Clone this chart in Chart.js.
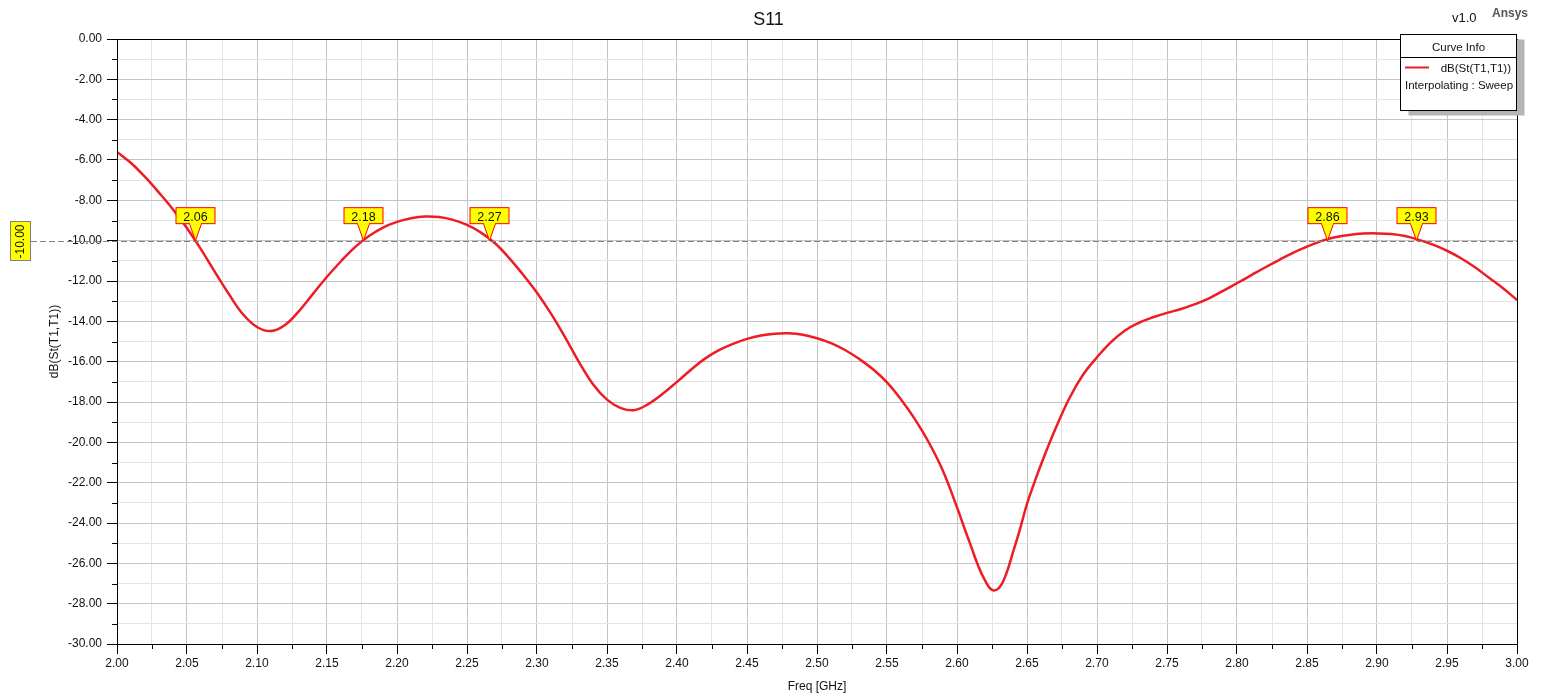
<!DOCTYPE html>
<html>
<head>
<meta charset="utf-8">
<script src="https://cdn.jsdelivr.net/npm/chart.js@4.4.0/dist/chart.umd.min.js"></script>
<style>
  html, body { margin: 0; padding: 0; background: #fff; overflow: hidden; }
  #wrap { width: 1543px; height: 699px; }
</style>
</head>
<body>
<div id="wrap"><canvas id="s11Chart" width="1543" height="699"></canvas></div>
<script>
// ── data ─────────────────────────────────────────────────────────────────
const freqGHz = [
  2.00, 2.01, 2.02, 2.03, 2.04, 2.05, 2.06, 2.07, 2.08, 2.09,
  2.10, 2.11, 2.12, 2.13, 2.14, 2.15, 2.16, 2.17, 2.18, 2.19,
  2.20, 2.21, 2.22, 2.23, 2.24, 2.25, 2.26, 2.27, 2.28, 2.29,
  2.30, 2.31, 2.32, 2.33, 2.34, 2.35, 2.36, 2.37, 2.38, 2.39,
  2.40, 2.41, 2.42, 2.43, 2.44, 2.45, 2.46, 2.47, 2.48, 2.49,
  2.50, 2.51, 2.52, 2.53, 2.54, 2.55, 2.56, 2.57, 2.58, 2.59,
  2.60, 2.605, 2.61, 2.615, 2.62, 2.625, 2.63, 2.635, 2.64, 2.645,
  2.65, 2.655, 2.66, 2.67, 2.68, 2.69, 2.70, 2.71, 2.72, 2.73, 2.74,
  2.75, 2.76, 2.77, 2.78, 2.79, 2.80, 2.81, 2.82, 2.83, 2.84,
  2.85, 2.86, 2.87, 2.88, 2.89, 2.90, 2.91, 2.92, 2.93, 2.94,
  2.95, 2.96, 2.97, 2.98, 2.99, 3.00,
];
const s11dB = [
  -5.60, -6.15, -6.84, -7.62, -8.45, -9.38, -10.43, -11.56, -12.66, -13.65,
  -14.28, -14.48, -14.18, -13.49, -12.64, -11.79, -11.02, -10.32, -9.77, -9.35,
  -9.07, -8.89, -8.80, -8.83, -8.97, -9.22, -9.60, -10.13, -10.85, -11.68,
  -12.58, -13.62, -14.78, -16.02, -17.12, -17.88, -18.30, -18.40, -18.08, -17.58,
  -17.00, -16.40, -15.85, -15.43, -15.12, -14.87, -14.70, -14.61, -14.59, -14.67,
  -14.84, -15.08, -15.42, -15.86, -16.38, -17.03, -17.88, -18.86, -20.02, -21.42,
  -23.22, -24.20, -25.15, -26.10, -26.85, -27.32, -27.22, -26.55, -25.45, -24.30,
  -23.05, -22.05, -21.10, -19.38, -17.85, -16.65, -15.78, -15.03, -14.45, -14.07, -13.80,
  -13.58, -13.39, -13.15, -12.86, -12.49, -12.11, -11.72, -11.33, -10.96, -10.60,
  -10.30, -10.02, -9.83, -9.72, -9.65, -9.64, -9.67, -9.77, -9.96, -10.20,
  -10.50, -10.87, -11.32, -11.84, -12.36, -12.94,
];

const xTickLabels = [
  '2.00', '2.05', '2.10', '2.15', '2.20', '2.25', '2.30', '2.35', '2.40', '2.45', '2.50',
  '2.55', '2.60', '2.65', '2.70', '2.75', '2.80', '2.85', '2.90', '2.95', '3.00',
];
const yTickLabels = [
  '0.00', '-2.00', '-4.00', '-6.00', '-8.00', '-10.00', '-12.00', '-14.00', '-16.00',
  '-18.00', '-20.00', '-22.00', '-24.00', '-26.00', '-28.00', '-30.00',
];

// -10 dB crossings (marker tips), labels shown rounded
const markerFreqs = [2.056, 2.176, 2.266, 2.864, 2.928];
const markerLevel = -10;

const COLORS = {
  curve: '#ee1c25',
  gridMajor: '#c4c4c4',
  gridMinor: '#e4e4e4',
  axis: '#000000',
  text: '#111111',
  markerFill: '#ffff00',
  markerEdge: '#ff0000',
  dash: '#808080',
};
const FONT = '"Liberation Sans", Arial, sans-serif';

// ── tick helpers ─────────────────────────────────────────────────────────
function buildTicks(labels) {
  const majors = labels.map(Number).sort((a, b) => a - b);
  const ticks = [];
  for (let i = 0; i < majors.length; i++) {
    ticks.push({ value: majors[i], major: true });
    if (i < majors.length - 1) ticks.push({ value: (majors[i] + majors[i + 1]) / 2, major: false });
  }
  return ticks;
}
function labelFor(labels, value) {
  const hit = labels.find(l => Math.abs(Number(l) - value) < 1e-6);
  return hit || '';
}

// ── overlay: frame, minor ticks, markers, titles, legend ─────────────────
const overlay = {
  id: 'overlay',
  afterDraw(chart) {
    const { ctx, chartArea: a, scales: { x, y } } = chart;
    ctx.save();

    // frame top/right
    ctx.strokeStyle = COLORS.axis;
    ctx.lineWidth = 1;
    ctx.strokeRect(Math.round(a.left) + 0.5, Math.round(a.top) + 0.5,
      Math.round(a.right - a.left), Math.round(a.bottom - a.top));

    // minor ticks (short, outside)
    ctx.beginPath();
    x.ticks.filter(t => !t.major).forEach(t => {
      const px = Math.round(x.getPixelForValue(t.value)) + 0.5;
      ctx.moveTo(px, a.bottom); ctx.lineTo(px, a.bottom + 5);
    });
    y.ticks.filter(t => !t.major).forEach(t => {
      const py = Math.round(y.getPixelForValue(t.value)) + 0.5;
      ctx.moveTo(a.left, py); ctx.lineTo(a.left - 5, py);
    });
    ctx.stroke();

    // -10 dB dashed level line + y marker
    const ly = Math.round(y.getPixelForValue(markerLevel)) + 0.5;
    ctx.strokeStyle = COLORS.dash;
    ctx.setLineDash([6, 3]);
    ctx.beginPath();
    ctx.moveTo(31, ly); ctx.lineTo(a.right, ly);
    ctx.stroke();
    ctx.setLineDash([]);

    ctx.fillStyle = COLORS.markerFill;
    ctx.fillRect(10.5, ly - 20, 20, 39);
    ctx.strokeStyle = COLORS.dash;
    ctx.strokeRect(10.5, ly - 20, 20, 39);
    ctx.save();
    ctx.translate(21, ly);
    ctx.rotate(-Math.PI / 2);
    ctx.fillStyle = COLORS.text;
    ctx.font = '12px ' + FONT;
    ctx.textAlign = 'center';
    ctx.textBaseline = 'middle';
    ctx.fillText(markerLevel.toFixed(2), 0, 0);
    ctx.restore();

    // frequency markers
    markerFreqs.forEach(f => {
      const cx = Math.round(x.getPixelForValue(f)) + 0.5;
      const tip = y.getPixelForValue(markerLevel);
      const bTop = tip - 33, bBot = tip - 17;
      ctx.fillStyle = COLORS.markerFill;
      ctx.strokeStyle = COLORS.markerEdge;
      ctx.lineWidth = 1;
      ctx.beginPath();
      ctx.moveTo(cx - 6, bBot); ctx.lineTo(cx, tip); ctx.lineTo(cx + 6, bBot);
      ctx.closePath();
      ctx.fill();
      ctx.beginPath();
      ctx.moveTo(cx - 6, bBot); ctx.lineTo(cx, tip); ctx.lineTo(cx + 6, bBot);
      ctx.stroke();
      ctx.fillRect(cx - 19.5, bTop, 39, 16);
      ctx.strokeRect(cx - 19.5, bTop, 39, 16);
      ctx.fillStyle = COLORS.markerFill;
      ctx.fillRect(cx - 5.5, bBot - 1, 11, 2);
      ctx.fillStyle = COLORS.text;
      ctx.font = '12.5px ' + FONT;
      ctx.textAlign = 'center';
      ctx.textBaseline = 'alphabetic';
      ctx.fillText(f.toFixed(2), cx, bBot - 3);
    });

    // titles
    ctx.fillStyle = COLORS.text;
    ctx.textAlign = 'center';
    ctx.font = '18px ' + FONT;
    ctx.fillText('S11', chart.width / 2 - 3, 25);
    ctx.font = '12px ' + FONT;
    ctx.fillText('Freq [GHz]', (a.left + a.right) / 2, 690);
    ctx.save();
    ctx.translate(58, (a.top + a.bottom) / 2);
    ctx.rotate(-Math.PI / 2);
    ctx.font = '12px ' + FONT;
    ctx.fillText('dB(St(T1,T1))', 0, 0);
    ctx.restore();

    ctx.textAlign = 'left';
    ctx.font = '13px ' + FONT;
    ctx.fillText('v1.0', 1452, 22);
    ctx.fillStyle = '#555';
    ctx.font = 'bold 12px ' + FONT;
    ctx.fillText('Ansys', 1492, 17);

    // legend box
    const lx = 1400.5, lyTop = 34.5, lw = 116, lh = 76;
    ctx.fillStyle = '#b4b4b4';
    ctx.fillRect(lx + 8, lyTop + 5, lw, lh);
    ctx.fillStyle = '#fff';
    ctx.fillRect(lx, lyTop, lw, lh);
    ctx.strokeStyle = '#000';
    ctx.strokeRect(lx, lyTop, lw, lh);
    ctx.beginPath();
    ctx.moveTo(lx, 57.5); ctx.lineTo(lx + lw, 57.5);
    ctx.stroke();
    ctx.fillStyle = COLORS.text;
    ctx.font = '11.5px ' + FONT;
    ctx.textAlign = 'center';
    ctx.fillText('Curve Info', lx + lw / 2, 51);
    ctx.strokeStyle = COLORS.curve;
    ctx.lineWidth = 2;
    ctx.beginPath();
    ctx.moveTo(1405, 67.5); ctx.lineTo(1429, 67.5);
    ctx.stroke();
    ctx.textAlign = 'right';
    ctx.fillText('dB(St(T1,T1))', 1511, 72);
    ctx.textAlign = 'left';
    ctx.fillText('Interpolating : Sweep', 1405, 89);

    ctx.restore();
  },
};

// ── chart ────────────────────────────────────────────────────────────────
const points = freqGHz.map((f, i) => ({ x: f, y: s11dB[i] }));

new Chart(document.getElementById('s11Chart').getContext('2d'), {
  type: 'line',
  data: {
    datasets: [{
      label: 'dB(St(T1,T1))',
      data: points,
      borderColor: COLORS.curve,
      borderWidth: 2.5,
      pointRadius: 0,
      fill: false,
      tension: 0.4,
    }],
  },
  options: {
    responsive: false,
    animation: false,
    devicePixelRatio: 1,
    layout: { padding: { left: 0, right: 26, top: 39, bottom: 0 } },
    plugins: { legend: { display: false }, tooltip: { enabled: false }, title: { display: false } },
    scales: {
      x: {
        type: 'linear',
        min: 2, max: 3,
        afterBuildTicks: s => { s.ticks = buildTicks(xTickLabels); },
        afterFit: s => { s.height = 55; },
        ticks: {
          autoSkip: false, maxRotation: 0, padding: 2,
          color: COLORS.text, font: { size: 12, family: FONT },
          callback: v => labelFor(xTickLabels, v),
        },
        grid: {
          color: c => (c.tick && c.tick.major ? COLORS.gridMajor : COLORS.gridMinor),
          tickColor: c => (c.tick && c.tick.major ? COLORS.axis : 'rgba(0,0,0,0)'),
          tickLength: 10,
        },
        border: { display: true, color: COLORS.axis, width: 1 },
      },
      y: {
        type: 'linear',
        min: -30, max: 0,
        afterBuildTicks: s => { s.ticks = buildTicks(yTickLabels); },
        afterFit: s => { s.width = 117; },
        ticks: {
          autoSkip: false, padding: 5,
          color: COLORS.text, font: { size: 12, family: FONT },
          callback: v => labelFor(yTickLabels, v),
        },
        grid: {
          color: c => (c.tick && c.tick.major ? COLORS.gridMajor : COLORS.gridMinor),
          tickColor: c => (c.tick && c.tick.major ? COLORS.axis : 'rgba(0,0,0,0)'),
          tickLength: 10,
        },
        border: { display: true, color: COLORS.axis, width: 1 },
      },
    },
  },
  plugins: [overlay],
});
</script>
</body>
</html>
